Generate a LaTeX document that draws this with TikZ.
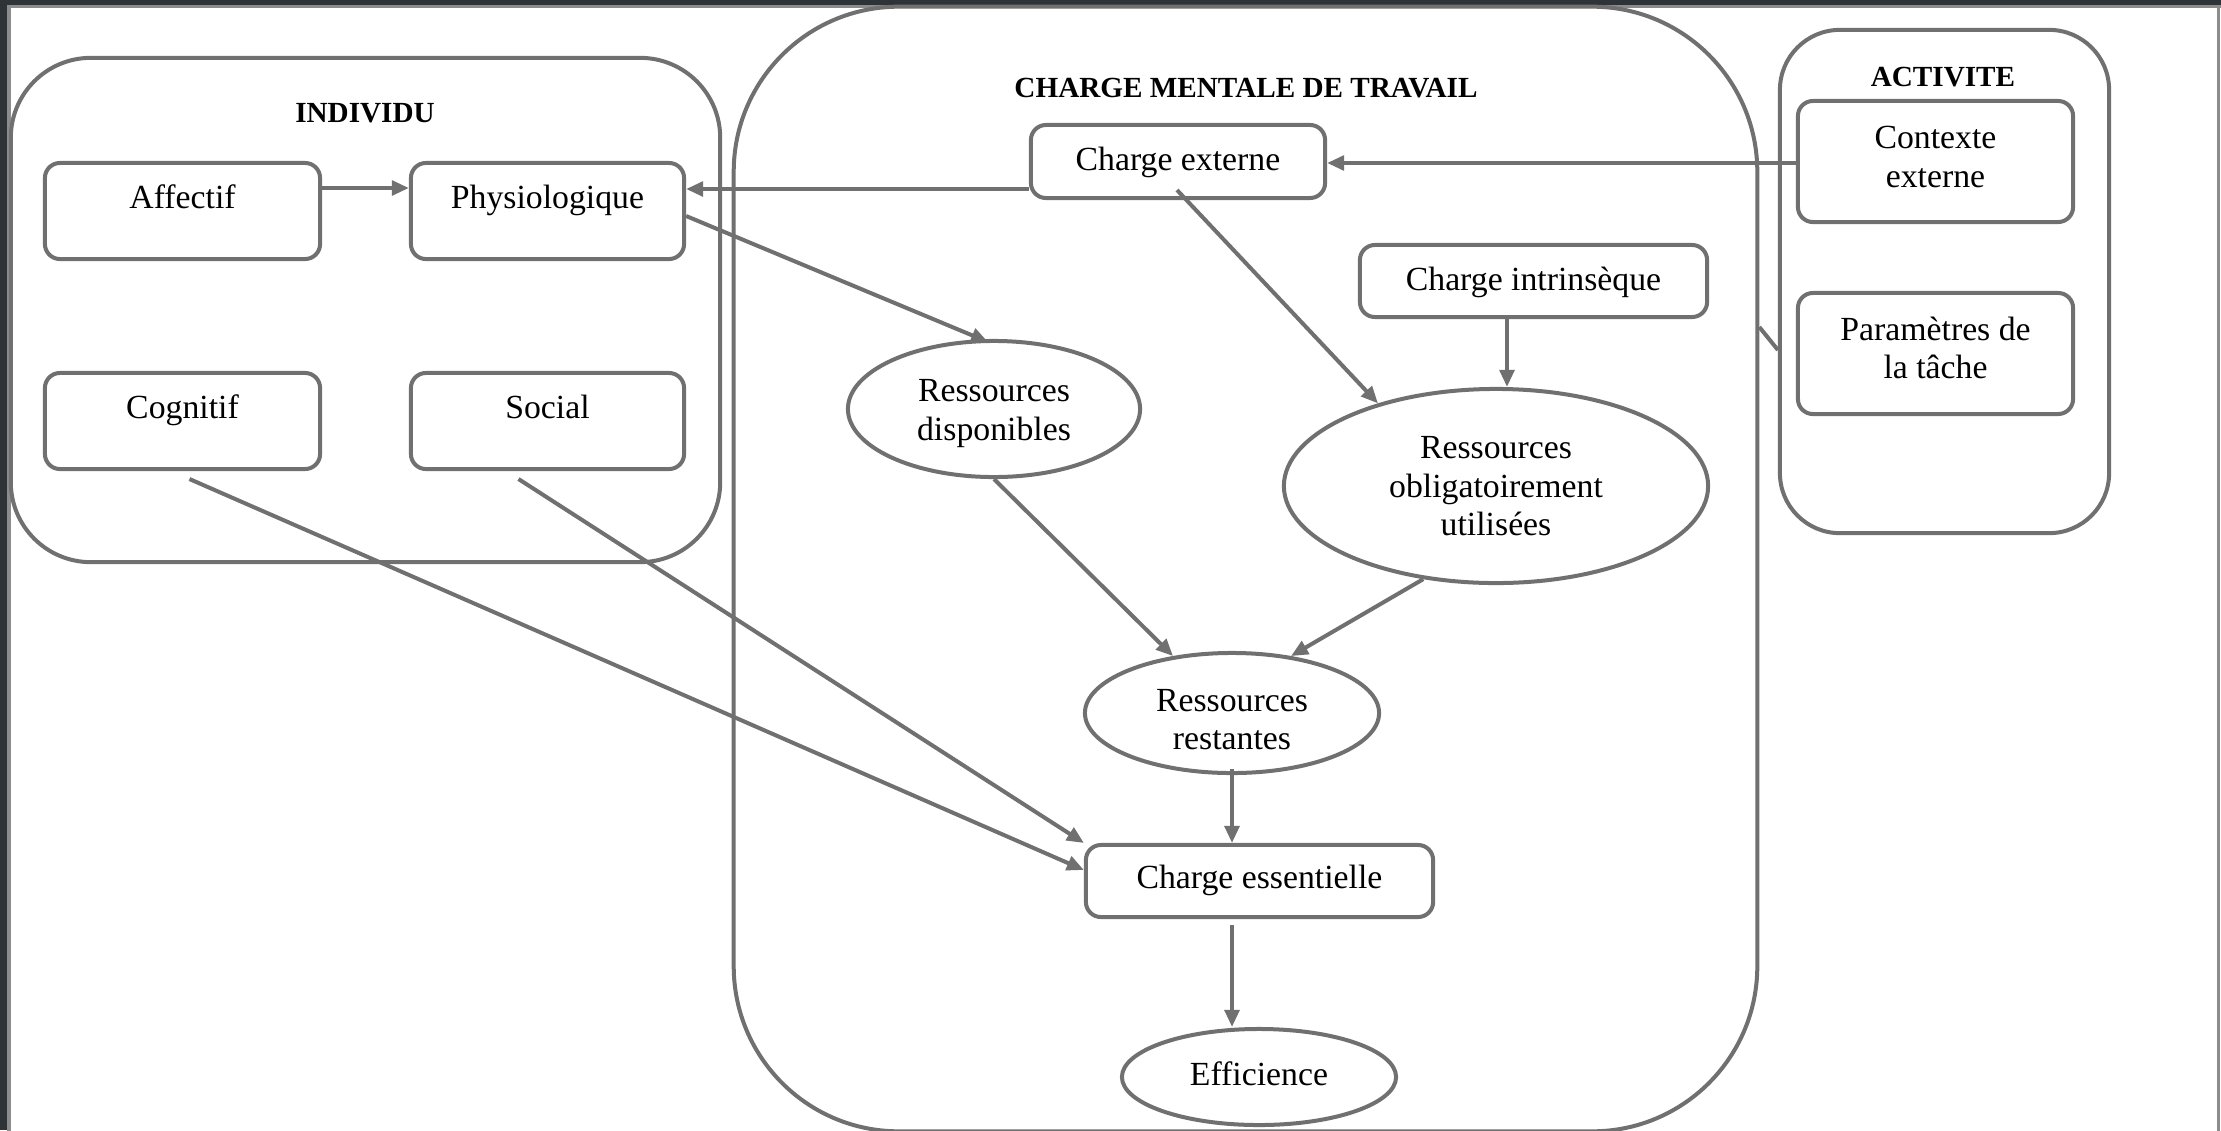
\documentclass[tikz,border=0pt]{standalone}
\usepackage{fontspec}
\setmainfont{Liberation Serif}
\usetikzlibrary{arrows.meta,shapes.geometric,calc}
\definecolor{ln}{HTML}{707070}
\definecolor{framedark}{HTML}{2E3338}
\definecolor{framegray}{HTML}{8C8C8C}
\tikzset{
  lw/.style={line width=0.04cm},
  container/.style={draw=ln, lw, rounded corners=#1, inner sep=0pt},
  box/.style={draw=ln, lw, rounded corners=0.15cm, inner sep=0pt, fill=white},
  oval/.style={ellipse, draw=ln, lw, inner sep=0pt, fill=white},
  txt/.style={anchor=base, inner sep=0pt, font=\fontsize{9.6}{11}\selectfont},
  ttl/.style={anchor=base, inner sep=0pt, font=\fontsize{8.3}{10}\selectfont\bfseries},
  arr/.style={draw=ln, lw, -{Triangle[length=0.17cm,width=0.145cm]}},
  lnk/.style={draw=ln, lw},
}
\begin{document}
\begin{tikzpicture}[x=0.01cm,y=-0.01cm]
\useasboundingbox (0,0) rectangle (2221,1130);
\clip (0,0) rectangle (2221,1130);
% screenshot frame
\fill[framedark] (0,0) rectangle (2221,1130);
\fill[white] (9,6) rectangle (2221,1140);
\draw[framegray, line width=0.03cm] (9,1140) -- (9,6) -- (2221,6);
\draw[framegray, line width=0.03cm] (2218,6) -- (2218,1140);

% containers
\node[container=0.8cm, minimum width=7.09cm, minimum height=5.04cm] (indiv) at (365.5,310) {};
\node[container=1.65cm, minimum width=10.23cm, minimum height=11.24cm] (cmt) at (1245.5,569) {};
\node[container=0.6cm, minimum width=3.29cm, minimum height=5.03cm] (act) at (1944.5,281.5) {};

\node[ttl] (indivT) at (365,122) {INDIVIDU};
\node[ttl] (cmtT) at (1246,97) {CHARGE MENTALE DE TRAVAIL};
\node[ttl] (actT) at (1943,86) {ACTIVITE};

% INDIVIDU boxes
\node[box, minimum width=2.75cm, minimum height=0.96cm] (aff) at (182.5,211) {};
\node[box, minimum width=2.73cm, minimum height=0.96cm] (phys) at (547.5,211) {};
\node[box, minimum width=2.75cm, minimum height=0.96cm] (cog) at (182.5,421) {};
\node[box, minimum width=2.73cm, minimum height=0.96cm] (soc) at (547.5,421) {};
\node[txt] (affT) at (182.5,208) {Affectif};
\node[txt] (physT) at (547.5,208) {Physiologique};
\node[txt] (cogT) at (182.5,418) {Cognitif};
\node[txt] (socT) at (547.5,418) {Social};

% central boxes
\node[box, minimum width=2.94cm, minimum height=0.73cm] (ext) at (1178,161.5) {};
\node[txt] (extT) at (1178,170) {Charge externe};
\node[box, minimum width=3.47cm, minimum height=0.72cm] (intr) at (1533.5,281) {};
\node[txt] (intrT) at (1533.5,290) {Charge intrinsèque};
\node[oval, minimum width=2.92cm, minimum height=1.36cm] (dispo) at (994,409) {};
\node[txt] (dispoT1) at (994,401) {Ressources};
\node[txt] (dispoT2) at (994,440) {disponibles};
\node[oval, minimum width=4.24cm, minimum height=1.94cm] (oblig) at (1496,486) {};
\node[txt] (obligT1) at (1496,458) {Ressources};
\node[txt] (obligT2) at (1496,497) {obligatoirement};
\node[txt] (obligT3) at (1496,535) {utilisées};
\node[oval, minimum width=2.94cm, minimum height=1.20cm] (rest) at (1232,713) {};
\node[txt] (restT1) at (1232,711) {Ressources};
\node[txt] (restT2) at (1232,749) {restantes};
\node[box, minimum width=3.47cm, minimum height=0.72cm] (ess) at (1259.5,881) {};
\node[txt] (essT) at (1259.5,888) {Charge essentielle};
\node[oval, minimum width=2.74cm, minimum height=0.96cm] (eff) at (1259,1077) {};
\node[txt] (effT) at (1259,1085) {Efficience};

% ACTIVITE boxes
\node[box, minimum width=2.75cm, minimum height=1.21cm] (ctx) at (1935.5,161.5) {};
\node[txt] (ctxT1) at (1935.5,148) {Contexte};
\node[txt] (ctxT2) at (1935.5,187) {externe};
\node[box, minimum width=2.75cm, minimum height=1.21cm] (par) at (1935.5,353.5) {};
\node[txt] (parT1) at (1935.5,340) {Paramètres de};
\node[txt] (parT2) at (1935.5,378) {la tâche};

% connectors
\draw[arr] (aff.east |- 0,188) -- (phys.west |- 0,188);
\draw[arr] (ext.west |- 0,189) -- (phys.east |- 0,189);
\draw[arr] (ctx.west |- 0,163) -- (ext.east |- 0,163);
\draw[arr] (phys.east |- 0,216) -- ($(dispo.north)+(-6,3)$);
\draw[arr] ($(ext.south)+(-1,-10)$) -- (oblig.145);
\draw[arr] (intr.south -| 1507,0) -- (oblig.north -| 1507,0);
\draw[arr] (dispo.south) -- (rest.136);
\draw[arr] (oblig.232) -- (rest.44);
\draw[arr] ($(rest.south)+(0,-6)$) -- (ess.north -| rest.south);
\draw[arr] ($(ess.south -| rest.south)+(0,6)$) -- (eff.north -| rest.south);
\draw[arr] ($(cog.south)+(7,8)$) -- ($(ess.west)+(0,-11)$);
\draw[arr] ($(soc.south)+(-29,8)$) -- (ess.north west);
\draw[lnk] (cmt.east |- 0,327) -- (act.west |- 0,350);
\end{tikzpicture}
\end{document}
